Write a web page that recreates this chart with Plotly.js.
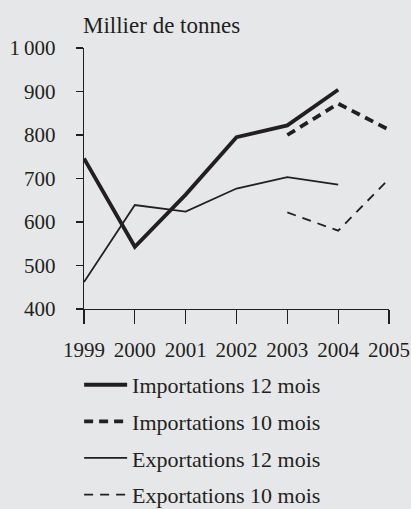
<!DOCTYPE html>
<html>
<head>
<meta charset="utf-8">
<script src="https://cdn.plot.ly/plotly-3.0.1.min.js"></script>
<style>
html,body{margin:0;padding:0;background:#e6e7e8;}
#chart{width:411px;height:509px;}
</style>
</head>
<body>
<div id="chart"></div>
<script>
// Data
var years = [1999, 2000, 2001, 2002, 2003, 2004, 2005];
var years10 = [2003, 2004, 2005];
var imports12 = [746, 543, 663, 795, 822, 904];
var imports10 = [800, 872, 812];
var exports12 = [462, 639, 624, 677, 703, 686];
var exports10 = [622, 580, 699];
var yTickVals = [400, 500, 600, 700, 800, 900, 1000];
var yTickText = ['400', '500', '600', '700', '800', '900', '1\u2009000'];
var xTickText = ['1999', '2000', '2001', '2002', '2003', '2004', '2005'];
var seriesNames = ['Importations 12 mois', 'Importations 10 mois', 'Exportations 12 mois', 'Exportations 10 mois'];
var yTitle = 'Millier de tonnes';

var ink = '#231f20';
var font = '"Liberation Serif", "Times New Roman", serif';

var traces = [
  {x: years.slice(0, imports12.length), y: imports12, name: seriesNames[0], legendgroup: 'a',
   mode: 'lines', line: {color: ink, width: 3.8}},
  {x: years10, y: imports10, name: seriesNames[1], legendgroup: 'b',
   mode: 'lines', line: {color: ink, width: 3.8, dash: '9px,6px'}},
  {x: years.slice(0, exports12.length), y: exports12, name: seriesNames[2], legendgroup: 'c',
   mode: 'lines', line: {color: ink, width: 1.8}},
  {x: years10, y: exports10, name: seriesNames[3], legendgroup: 'd',
   mode: 'lines', line: {color: ink, width: 1.8, dash: '9px,7px'}}
];

var layout = {
  width: 411, height: 509,
  paper_bgcolor: '#e6e7e8', plot_bgcolor: '#e6e7e8',
  margin: {l: 84, r: 22, t: 48, b: 200, pad: 0},
  font: {family: font, color: ink, size: 21},
  showlegend: true,
  legend: {
    x: -0.016, xanchor: 'left', y: 0.285, yref: 'container', yanchor: 'top',
    bgcolor: 'rgba(0,0,0,0)', font: {family: font, size: 22, color: ink},
    tracegroupgap: 5, itemwidth: 43
  },
  xaxis: {
    range: [1999, 2005], tickvals: years, ticktext: xTickText,
    showgrid: false, zeroline: false, showline: true, linecolor: ink, linewidth: 1.2,
    ticks: 'outside', ticklen: 14, tickwidth: 1.2, tickcolor: ink,
    ticklabelstandoff: 8,
    tickfont: {family: font, size: 21, color: ink}, fixedrange: true
  },
  yaxis: {
    range: [400, 1000], tickvals: yTickVals, ticktext: yTickText,
    showgrid: false, zeroline: false, showline: true, linecolor: ink, linewidth: 1.2,
    ticks: 'outside', ticklen: 7, tickwidth: 1.2, tickcolor: ink,
    ticklabelstandoff: 16,
    tickfont: {family: font, size: 21, color: ink}, fixedrange: true
  },
  annotations: [{
    text: yTitle, xref: 'paper', yref: 'paper', x: 0, y: 1, xanchor: 'left', yanchor: 'bottom',
    yshift: 8, xshift: -3, showarrow: false, font: {family: font, size: 23, color: ink}
  }]
};

Plotly.newPlot('chart', traces, layout, {displayModeBar: false, staticPlot: true});
</script>
</body>
</html>
